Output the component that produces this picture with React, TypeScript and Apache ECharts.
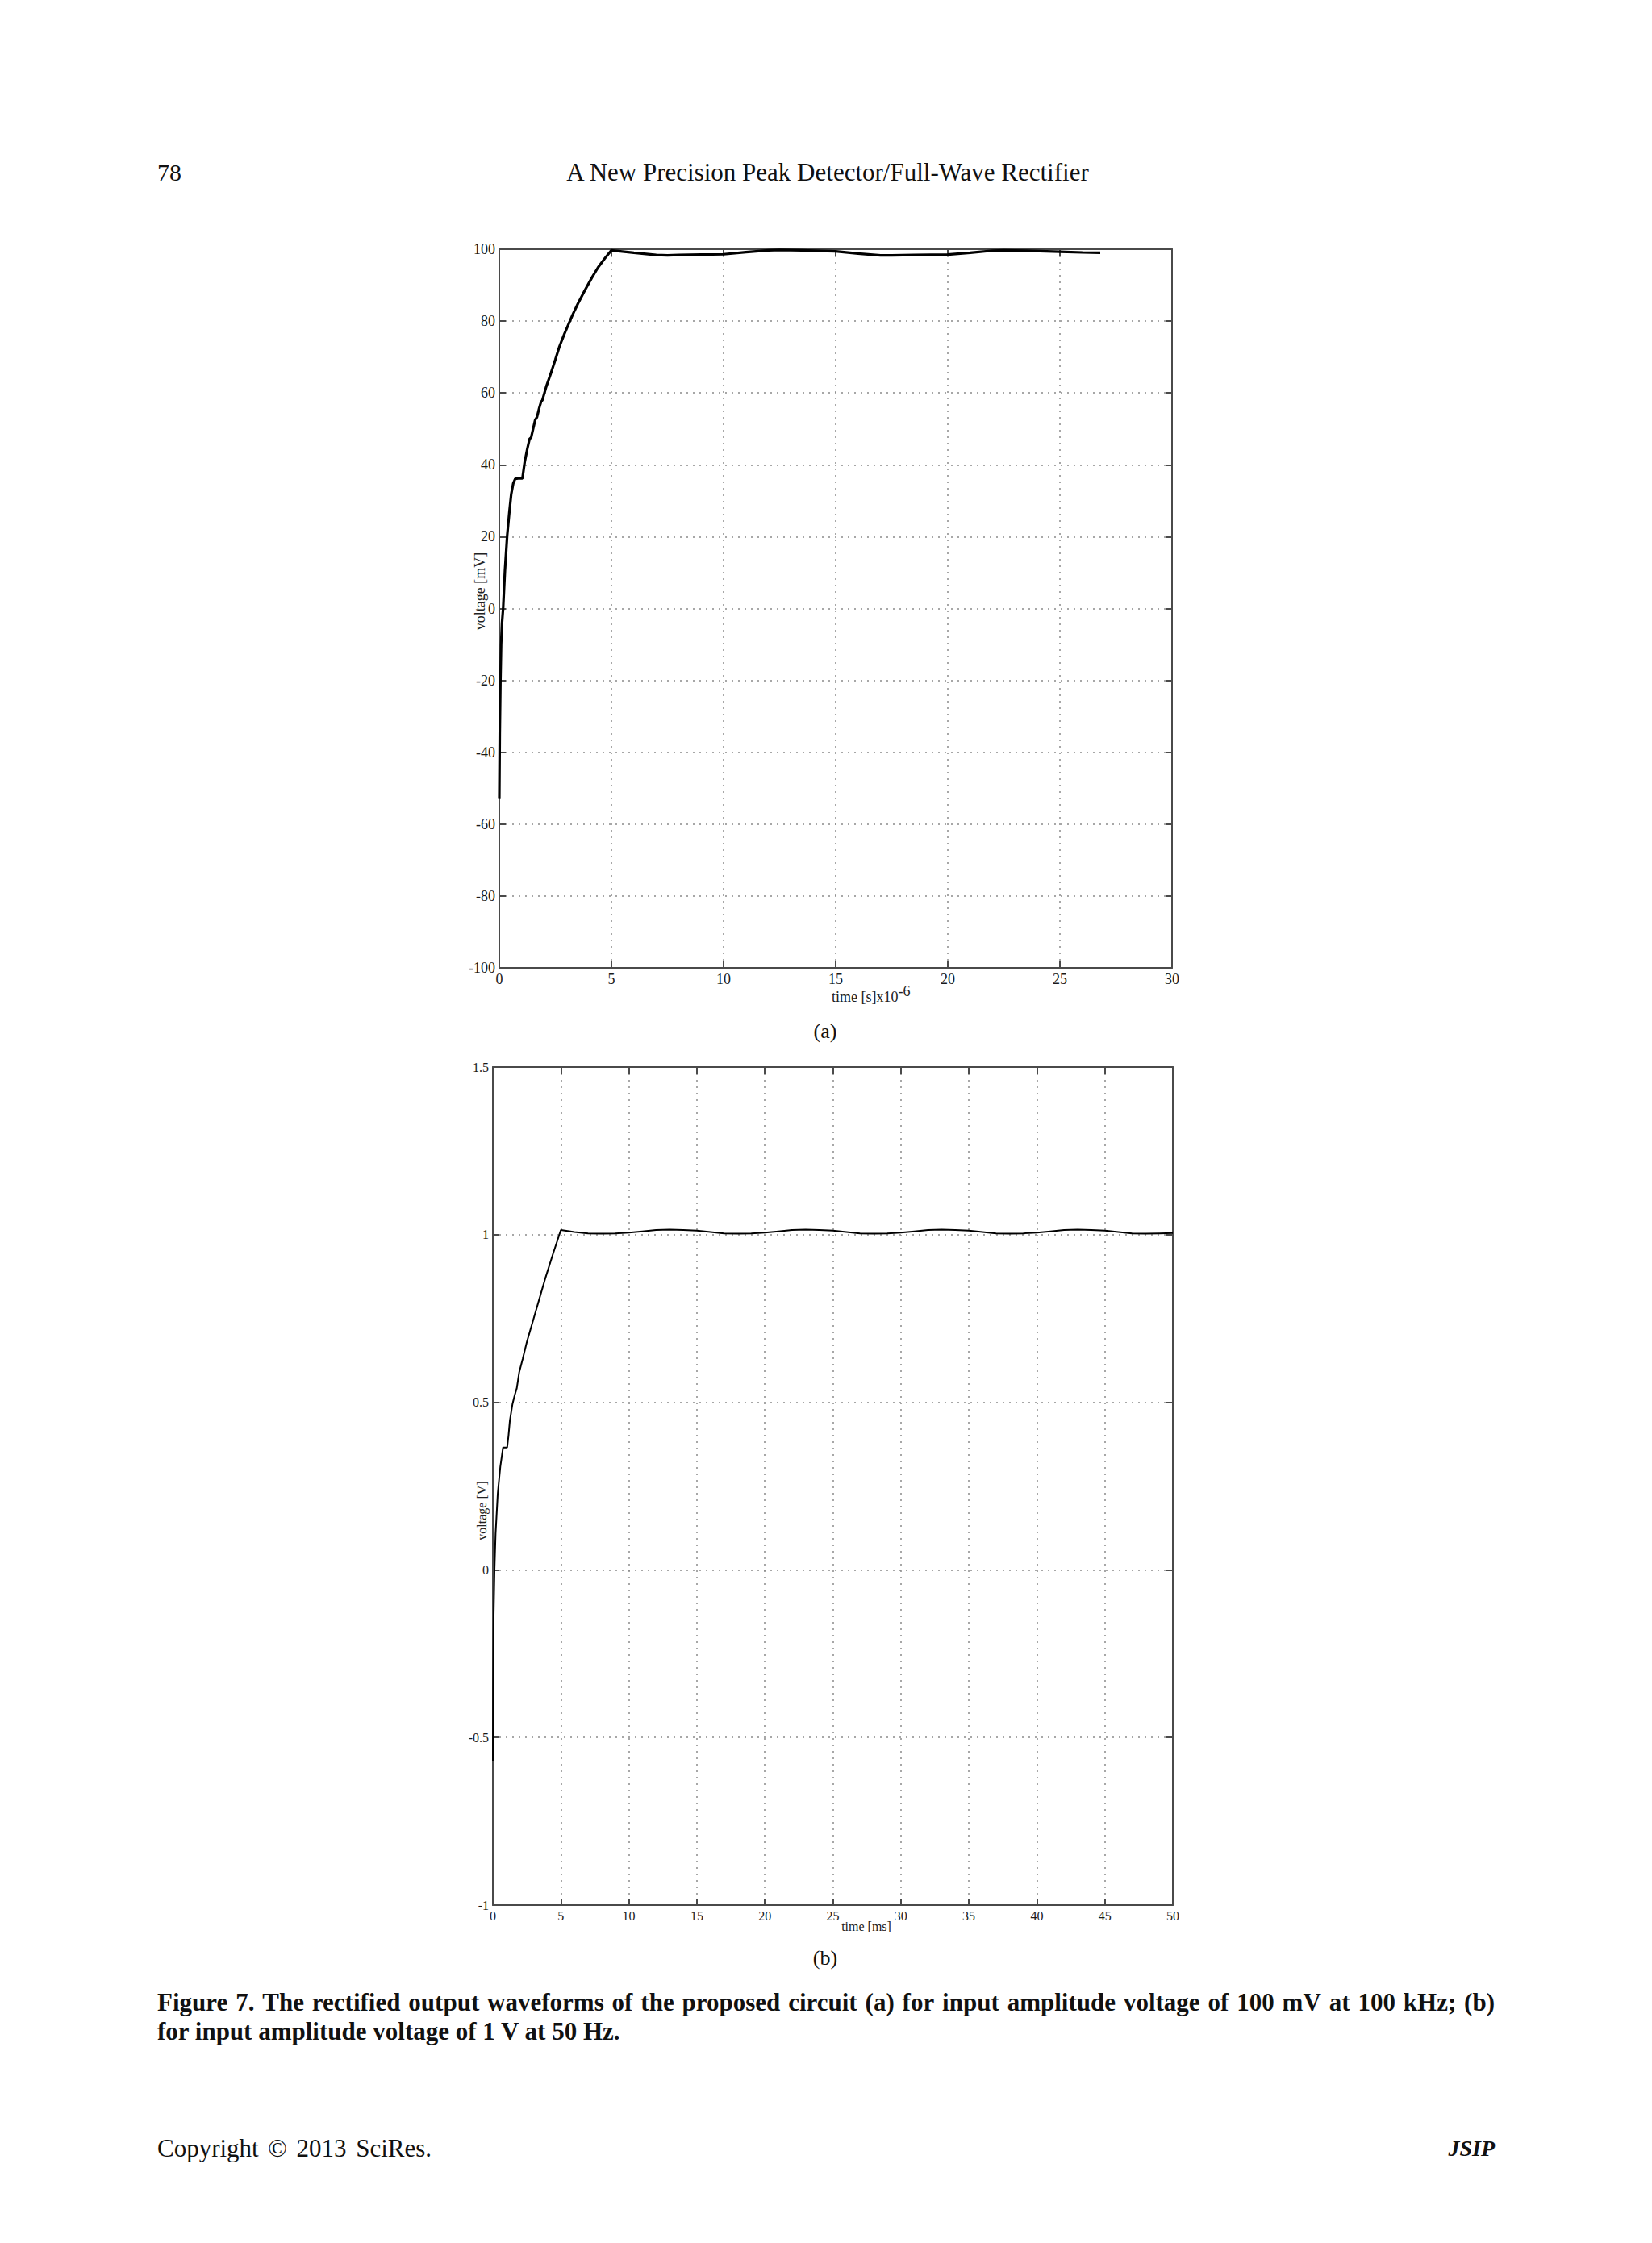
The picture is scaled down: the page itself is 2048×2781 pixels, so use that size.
import React, { useEffect, useRef } from "react";
import * as echarts from "echarts";

// ---------- Data: panel (a) time [µs], voltage [mV] ----------
const timeA = [
  0, 0.02, 0.05, 0.08, 0.12, 0.17, 0.25, 0.35, 0.45, 0.53, 0.62, 0.71, 0.85, 1.03,
  1.13, 1.25, 1.35, 1.42, 1.5, 1.6, 1.68, 1.78, 1.86, 1.92, 2.09, 2.3, 2.5, 2.68,
  2.9, 3.1, 3.28, 3.5, 3.8, 4.12, 4.4, 4.7, 5.0, 6.0, 7.0, 7.5, 8.0, 9.0, 10.0,
  11.0, 12.0, 12.5, 13.5, 15.0, 16.0, 17.0, 17.5, 18.5, 20.0, 21.0, 22.0, 22.5,
  23.5, 25.0, 26.0, 26.8,
];
const voltA = [
  -53, -35, -20, -10, -4, 0, 10.5, 20.3, 27.0, 31.8, 34.8, 36.1, 36.2, 36.2,
  40.7, 44.5, 47.2, 47.6, 49.8, 52.5, 53.3, 55.8, 57.5, 58.0, 61.7, 65.5, 69.3, 72.9,
  76.4, 79.3, 81.9, 84.8, 88.4, 92.0, 94.9, 97.4, 99.7, 99.0, 98.4, 98.3, 98.4, 98.5, 98.6,
  99.2, 99.7, 99.8, 99.7, 99.4, 98.8, 98.3, 98.3, 98.4, 98.5, 99.0, 99.6, 99.7,
  99.6, 99.3, 99.1, 99.0,
];

// ---------- Data: panel (b) time [ms], voltage [V] ----------
const timeB = [
  0, 0.02, 0.06, 0.12, 0.2, 0.36, 0.55, 0.75, 1.05, 1.15, 1.25, 1.44, 1.6, 1.76, 1.94,
  2.2, 2.5, 3.0, 3.5, 3.82, 4.4, 5, 6, 7, 8, 9, 10, 11, 12, 13, 14, 15, 16, 17, 18, 19,
  20, 21, 22, 23, 24, 25, 26, 27, 28, 29, 30, 31, 32, 33, 34, 35, 36, 37, 38, 39, 40,
  41, 42, 43, 44, 45, 46, 47, 48, 49, 50,
];
const voltB = [
  -0.57, -0.35, -0.134, 0.0, 0.108, 0.228, 0.308, 0.365, 0.365, 0.40, 0.445, 0.494, 0.52, 0.542, 0.59,
  0.63, 0.68, 0.75, 0.82, 0.865, 0.94, 1.014, 1.008, 1.004, 1.003, 1.004, 1.006, 1.010, 1.014, 1.015, 1.014, 1.012, 1.008, 1.004, 1.003, 1.004,
  1.006, 1.010, 1.014, 1.015, 1.014, 1.012, 1.008, 1.004, 1.003, 1.004, 1.006, 1.010, 1.014, 1.015, 1.014, 1.012, 1.008, 1.004, 1.003, 1.004, 1.006,
  1.010, 1.014, 1.015, 1.014, 1.012, 1.008, 1.004, 1.003, 1.004, 1.005,
];

const CAPTION_1 =
  "Figure 7. The rectified output waveforms of the proposed circuit (a) for input amplitude voltage of 100 mV at 100 kHz; (b)";
const CAPTION_2 = "for input amplitude voltage of 1 V at 50 Hz.";

const FONT = "Liberation Serif";
const AXIS_COLOR = "#4a4a4a";
const GRID_COLOR = "#8a8a8a";

function measure(text: string, font: string): number {
  const c = document.createElement("canvas").getContext("2d");
  if (!c) return text.length * 10;
  c.font = font;
  return c.measureText(text).width;
}

// Lay words out so the line fills [x, x + width] (justified)
function justified(text: string, x: number, y: number, width: number, font: string, fill: string) {
  const words = text.split(" ");
  const widths = words.map((w) => measure(w, font));
  const total = widths.reduce((a, b) => a + b, 0);
  const gap = (width - total) / (words.length - 1);
  let cx = x;
  return words.map((w, i) => {
    const el = {
      type: "text",
      x: cx,
      y,
      style: { text: w, font, fill, textVerticalAlign: "middle" },
    };
    cx += widths[i] + gap;
    return el;
  });
}

function axisPair(gridIndex: number, min: number, max: number, interval: number, fontSize: number, dim: "x" | "y") {
  const base = {
    gridIndex,
    type: "value",
    min,
    max,
    interval,
    axisLine: { show: true, onZero: false, lineStyle: { color: AXIS_COLOR, width: 2 } },
    axisTick: { show: true, inside: true, length: 8, lineStyle: { color: AXIS_COLOR, width: 2 } },
  };
  const main = {
    ...base,
    position: dim === "x" ? "bottom" : "left",
    axisLabel: {
      show: true,
      fontFamily: FONT,
      fontSize,
      color: "#1a1a1a",
      margin: 5,
      showMinLabel: true,
      showMaxLabel: true,
    },
    splitLine: { show: true, lineStyle: { color: GRID_COLOR, width: 1.5, type: [2, 6] } },
  };
  const mirror = {
    ...base,
    position: dim === "x" ? "top" : "right",
    axisLabel: { show: false },
    splitLine: { show: false },
  };
  return [main, mirror];
}

export default function App() {
  const ref = useRef<HTMLDivElement>(null);

  useEffect(() => {
    document.body.style.margin = "0";
    if (!ref.current) return;
    const chart = echarts.init(ref.current, undefined, { renderer: "svg" });

    const [xa, xa2] = axisPair(0, 0, 30, 5, 18, "x");
    const [ya, ya2] = axisPair(0, -100, 100, 20, 18, "y");
    const [xb, xb2] = axisPair(1, 0, 50, 5, 16, "x");
    const [yb, yb2] = axisPair(1, -1, 1.5, 0.5, 16, "y");

    const capFont = `bold 31px "${FONT}"`;
    const footFont = `31px "${FONT}"`;

    const option: any = {
      animation: false,
      backgroundColor: "#ffffff",
      textStyle: { fontFamily: FONT },
      grid: [
        { left: 619, top: 309, width: 834, height: 891 },
        { left: 611, top: 1323, width: 843, height: 1039 },
      ],
      xAxis: [xa, xa2, xb, xb2],
      yAxis: [ya, ya2, yb, yb2],
      series: [
        {
          type: "line",
          xAxisIndex: 0,
          yAxisIndex: 0,
          data: timeA.map((t, i) => [t, voltA[i]]),
          showSymbol: false,
          lineStyle: { color: "#000", width: 3.2 },
          z: 5,
        },
        {
          type: "line",
          xAxisIndex: 2,
          yAxisIndex: 2,
          data: timeB.map((t, i) => [t, voltB[i]]),
          showSymbol: false,
          lineStyle: { color: "#000", width: 2 },
          z: 5,
        },
      ],
      graphic: [
        { type: "text", x: 195, y: 213, style: { text: "78", font: `30px "${FONT}"`, fill: "#111", textVerticalAlign: "middle" } },
        {
          type: "text",
          x: 1026,
          y: 213,
          style: {
            text: "A New Precision Peak Detector/Full-Wave Rectifier",
            font: `31px "${FONT}"`,
            fill: "#111",
            textAlign: "center",
            textVerticalAlign: "middle",
          },
        },
        {
          type: "text",
          x: 595,
          y: 733,
          rotation: Math.PI / 2,
          style: {
            text: "voltage [mV]",
            font: `18px "${FONT}"`,
            fill: "#222",
            textAlign: "center",
            textVerticalAlign: "middle",
          },
        },
        {
          type: "text",
          x: 1031,
          y: 1236,
          style: {
            text: "time [s]x10{sup|-6}",
            font: `18px "${FONT}"`,
            fill: "#222",
            textVerticalAlign: "middle",
            rich: {
              sup: { fontFamily: FONT, fontSize: 18, fill: "#222", verticalAlign: "bottom", padding: [0, 0, 14, 0] },
            },
          },
        },
        {
          type: "text",
          x: 1023,
          y: 1278,
          style: { text: "(a)", font: `26px "${FONT}"`, fill: "#111", textAlign: "center", textVerticalAlign: "middle" },
        },
        {
          type: "text",
          x: 597,
          y: 1873,
          rotation: Math.PI / 2,
          style: {
            text: "voltage [V]",
            font: `16px "${FONT}"`,
            fill: "#222",
            textAlign: "center",
            textVerticalAlign: "middle",
          },
        },
        {
          type: "text",
          x: 1074,
          y: 2388,
          style: { text: "time [ms]", font: `16px "${FONT}"`, fill: "#222", textAlign: "center", textVerticalAlign: "middle" },
        },
        {
          type: "text",
          x: 1023,
          y: 2427,
          style: { text: "(b)", font: `26px "${FONT}"`, fill: "#111", textAlign: "center", textVerticalAlign: "middle" },
        },
        ...justified(CAPTION_1, 195, 2482, 1658, capFont, "#111"),
        {
          type: "text",
          x: 195,
          y: 2518,
          style: { text: CAPTION_2, font: capFont, fill: "#111", textVerticalAlign: "middle" },
        },
        ...justified("Copyright © 2013 SciRes.", 195, 2663, 340, footFont, "#111"),
        {
          type: "text",
          x: 1853,
          y: 2663,
          style: {
            text: "JSIP",
            font: `italic bold 28px "${FONT}"`,
            fill: "#111",
            textAlign: "right",
            textVerticalAlign: "middle",
          },
        },
      ],
    };

    chart.setOption(option);
    return () => chart.dispose();
  }, []);

  return <div ref={ref} style={{ width: 2048, height: 2781, background: "#fff" }} />;
}
